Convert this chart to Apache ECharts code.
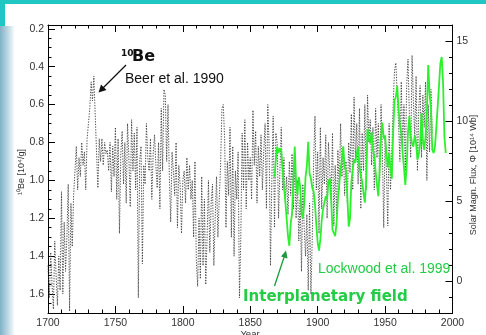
<!DOCTYPE html>
<html>
<head>
<meta charset="utf-8">
<script src="https://cdn.jsdelivr.net/npm/echarts@6/dist/echarts.min.js"></script>
<style>
  html, body { margin: 0; padding: 0; background: #fff; }
  #chart { width: 486px; height: 335px; }
</style>
</head>
<body>
<div id="chart"></div>
<script>
// 10Be concentration, annual values from 1700 (units 10^4 atoms/g)
const beStart = 1700;
const be10 = [
  1.45, 1.62, 1.38, 1.55, 1.68, 1.32, 1.50, 1.66, 1.40, 1.58,
  1.06, 1.60, 1.22, 1.48, 1.30, 1.02, 1.69, 1.12, 1.35, 1.08,
  0.95, 0.82, 1.05, 0.88, 0.98, 0.80, 0.92, 0.85, 1.05, 0.78,
  0.70, 0.62, 0.48, 0.58, 0.45, 0.65, 0.85, 1.04, 0.78, 0.90,
  0.78, 0.92, 0.80, 0.86, 0.84, 0.95, 0.80, 1.06, 0.82, 0.98,
  0.72, 1.10, 0.78, 1.28, 0.86, 0.74, 1.02, 0.80, 1.12, 0.70,
  0.88, 1.14, 0.68, 0.95, 0.75, 1.05, 0.72, 1.62, 0.90, 0.82,
  1.44, 0.92, 1.02, 0.70, 0.88, 0.95, 0.78, 1.10, 0.86, 0.76,
  0.92, 1.04, 0.80, 1.15, 0.62, 0.95, 0.52, 0.55, 0.90, 0.60,
  0.98, 1.22, 0.85, 0.95, 1.08, 0.80, 1.25, 0.92, 1.02, 1.28,
  1.00, 0.95, 1.12, 0.88, 1.05, 0.92, 1.10, 1.00, 1.30, 0.90,
  1.42, 1.56, 1.20, 1.52, 0.98, 1.45, 1.10, 1.55, 1.30, 1.00,
  1.38, 1.12, 1.02, 1.45, 1.20, 0.98, 1.30, 1.10, 0.92, 0.62,
  0.60, 0.78, 1.25, 0.90, 1.08, 0.72, 1.30, 0.82, 1.40, 0.95,
  1.10, 0.85, 1.62, 1.30, 0.75, 1.05, 0.68, 1.15, 0.80, 1.00,
  0.88, 1.10, 0.63, 0.92, 0.74, 1.12, 0.82, 0.98, 0.76, 1.05,
  0.85, 0.70, 1.15, 0.60, 0.82, 1.45, 1.00, 0.66, 1.25, 0.75,
  0.80, 1.20, 0.95, 0.72, 1.05, 0.88, 1.12, 0.98, 1.18, 0.90,
  1.08, 0.86, 1.15, 0.92, 1.20, 1.00, 1.32, 1.10, 1.48, 1.02,
  1.25, 1.40, 1.18, 1.58, 1.12, 1.60, 1.30, 0.90, 0.66, 1.05,
  0.85, 1.28, 0.72, 1.15, 0.88, 1.02, 0.76, 1.20, 0.80, 0.95,
  1.10, 0.75, 1.24, 0.92, 1.18, 0.84, 1.05, 0.70, 0.98, 0.82,
  1.08, 0.90, 1.12, 0.80, 0.96, 0.65, 1.05, 0.56, 0.90, 0.70,
  1.02, 0.62, 1.15, 0.75, 0.95, 0.60, 1.05, 0.55, 0.80, 0.68,
  0.92, 0.72, 1.05, 0.62, 0.88, 0.70, 1.00, 0.60, 0.85, 1.25,
  0.78, 0.95, 1.24, 0.70, 1.05, 0.85, 0.60, 0.42, 0.38, 0.55,
  0.70, 0.90, 0.48, 0.82, 0.60, 0.95, 0.50, 0.36, 0.65, 0.88,
  0.34, 0.58, 0.78, 0.45, 0.95, 0.62, 0.50, 0.88, 0.55, 0.72,
  0.48, 1.00, 0.60, 0.85, 0.52, 0.75
];

// Open solar magnetic flux, annual values from 1868 (units 10^14 Wb)
const fluxStart = 1868;
const flux = [
  6.5, 7.6, 8.4, 8.0, 8.3, 8.1, 7.0, 5.9, 5.0, 3.9,
  2.8, 2.2, 3.6, 4.2, 6.4, 8.4, 6.2, 5.4, 6.5, 5.9,
  4.3, 3.9, 4.8, 6.5, 7.2, 8.7, 6.7, 6.4, 5.8, 5.6,
  4.8, 3.5, 2.4, 1.9, 2.6, 3.8, 4.5, 4.9, 5.3, 5.1,
  6.2, 6.4, 5.1, 3.2, 3.0, 2.8, 3.6, 5.1, 6.0, 7.0,
  7.6, 8.4, 7.1, 6.9, 5.3, 3.4, 3.9, 6.2, 7.0, 7.6,
  7.4, 8.0, 8.4, 7.1, 6.6, 6.2, 5.5, 4.9, 6.2, 9.5,
  8.9, 8.6, 9.3, 8.2, 7.8, 6.8, 6.0, 5.3, 7.1, 9.0,
  9.9, 8.9, 9.1, 8.0, 7.1, 8.0, 7.0, 6.4, 9.3, 11.3,
  11.5, 12.2, 10.8, 9.7, 9.3, 8.0, 7.1, 6.0, 7.1, 9.3,
  10.3, 9.1, 8.6, 8.4, 9.1, 8.6, 7.6, 7.9, 8.6, 10.5,
  8.8, 8.2, 9.0, 10.5, 13.5, 11.7, 10.8, 8.2, 8.0, 8.4,
  9.6, 10.9, 12.2, 13.6, 14.0, 12.4, 9.0, 8.0
];

// Tick positions
const xTicks = { min: 1700, max: 2000, step: 50 };
const beMajorTicks = [0.2, 0.4, 0.6, 0.8, 1.0, 1.2, 1.4, 1.6];
const beRange = [0.18, 1.7];
const fluxMajorTicks = [0, 5, 10, 15];
const fluxRange = [-2, 16];

const beMinorTicks = [];
for (let k = 4; k <= 34; k++) beMinorTicks.push(+(k * 0.05).toFixed(2));

const beData = be10.map((v, i) => [beStart + i, v]);
const fluxData = flux.map((v, i) => [fluxStart + i, v]);

const tickFont = { color: '#333', fontSize: 10.5, fontFamily: 'Liberation Sans, Arial, sans-serif' };
const green = '#22cc44';

function xAxisDef(pos, labels) {
  return {
    type: 'value', position: pos,
    min: xTicks.min, max: xTicks.max, interval: xTicks.step,
    axisLine: { show: true, onZero: false, lineStyle: { color: '#000', width: 1 } },
    axisTick: { show: true, inside: true, length: 7, lineStyle: { color: '#000', width: 1 } },
    minorTick: { show: true, splitNumber: 5, length: 3.5, lineStyle: { color: '#000', width: 1 } },
    splitLine: { show: false }, minorSplitLine: { show: false },
    axisLabel: Object.assign({ show: labels, margin: 5, formatter: v => String(v) }, tickFont)
  };
}

const chart = echarts.init(document.getElementById('chart'), null, { renderer: 'canvas' });
chart.setOption({
  animation: false,
  backgroundColor: '#fff',
  grid: { left: 48, top: 25, width: 404.5, height: 288, containLabel: false },
  xAxis: [xAxisDef('bottom', true), xAxisDef('top', false)],
  yAxis: [
    {
      type: 'value', position: 'left', inverse: true,
      min: beRange[0], max: beRange[1],
      axisLine: { show: true, onZero: false, lineStyle: { color: '#000', width: 1 } },
      axisTick: { show: true, inside: true, length: 7, customValues: beMajorTicks, lineStyle: { color: '#000' } },
      axisLabel: Object.assign({ customValues: beMajorTicks, margin: 4, formatter: v => v.toFixed(1) }, tickFont),
      splitLine: { show: false }
    },
    {
      type: 'value', position: 'left', inverse: true,
      min: beRange[0], max: beRange[1],
      axisLine: { show: false },
      axisTick: { show: true, inside: true, length: 3.5, customValues: beMinorTicks, lineStyle: { color: '#000' } },
      axisLabel: { show: false },
      splitLine: { show: false }
    },
    {
      type: 'value', position: 'right',
      min: fluxRange[0], max: fluxRange[1],
      axisLine: { show: true, onZero: false, lineStyle: { color: '#000', width: 1 } },
      axisTick: { show: true, inside: true, length: 7, customValues: fluxMajorTicks, lineStyle: { color: '#000' } },
      axisLabel: Object.assign({ customValues: fluxMajorTicks, margin: 4 }, tickFont),
      splitLine: { show: false }
    },
    {
      type: 'value', position: 'right',
      min: fluxRange[0], max: fluxRange[1], interval: 1,
      axisLine: { show: false },
      axisTick: { show: true, inside: true, length: 3.5, lineStyle: { color: '#000' } },
      axisLabel: { show: false },
      splitLine: { show: false }
    }
  ],
  series: [
    {
      name: '10Be', type: 'line', xAxisIndex: 0, yAxisIndex: 0,
      data: beData, showSymbol: false, symbol: 'none', z: 2,
      lineStyle: { color: '#3a3a3a', width: 0.9, type: [1.3, 1.4] }
    },
    {
      name: 'Flux', type: 'line', xAxisIndex: 0, yAxisIndex: 2,
      data: fluxData, showSymbol: false, symbol: 'none', z: 3,
      lineStyle: { color: '#2cf02c', width: 1.8 }
    }
  ],
  graphic: [
    // slide decoration: teal header band and left edge strip
    { type: 'rect', z: -10, shape: { x: 0, y: 0, width: 486, height: 4 }, style: { fill: '#1fc6c2' } },
    { type: 'rect', z: -10, shape: { x: 0, y: 0, width: 5, height: 26 }, style: { fill: '#1fc6c2' } },
    {
      type: 'rect', z: -10, shape: { x: 0, y: 26, width: 15, height: 309 },
      style: {
        fill: {
          type: 'linear', x: 0, y: 0, x2: 1, y2: 0,
          colorStops: [
            { offset: 0, color: '#7fb2c8' },
            { offset: 0.5, color: '#b9d6e2' },
            { offset: 1, color: '#ffffff' }
          ]
        }
      }
    },
    // axis titles
    {
      type: 'text', x: 22, y: 172, rotation: Math.PI / 2,
      style: { text: '¹⁰Be [10⁴/g]', fill: '#333', font: '9px "Liberation Sans", Arial, sans-serif', align: 'center', verticalAlign: 'middle' }
    },
    {
      type: 'text', x: 473.5, y: 175, rotation: Math.PI / 2,
      style: { text: 'Solar Magn. Flux, Φ [10¹⁴ Wb]', fill: '#333', font: '9px "Liberation Sans", Arial, sans-serif', align: 'center', verticalAlign: 'middle' }
    },
    {
      type: 'text', x: 250, y: 329,
      style: { text: 'Year', fill: '#333', font: '9.5px "Liberation Sans", Arial, sans-serif', align: 'center', verticalAlign: 'top' }
    },
    // 10Be annotation
    {
      type: 'text', x: 121, y: 53.5,
      style: { text: '10', fill: '#111', font: 'bold 9px "DejaVu Sans", sans-serif', align: 'left', verticalAlign: 'middle' }
    },
    {
      type: 'text', x: 132, y: 56.5,
      style: { text: 'Be', fill: '#111', font: 'bold 16px "DejaVu Sans", sans-serif', align: 'left', verticalAlign: 'middle' }
    },
    {
      type: 'text', x: 125, y: 79,
      style: { text: 'Beer et al. 1990', fill: '#111', font: '14px "Liberation Sans", Arial, sans-serif', align: 'left', verticalAlign: 'middle' }
    },
    { type: 'line', shape: { x1: 126, y1: 65, x2: 102, y2: 89 }, style: { stroke: '#111', lineWidth: 1.3 } },
    { type: 'polygon', shape: { points: [[98.5, 92.5], [101, 84.5], [106.5, 90]] }, style: { fill: '#111' } },
    // interplanetary field annotation
    {
      type: 'text', x: 318, y: 269.5,
      style: { text: 'Lockwood et al. 1999', fill: green, font: '14px "Liberation Sans", Arial, sans-serif', align: 'left', verticalAlign: 'middle' }
    },
    {
      type: 'text', x: 243, y: 297,
      style: { text: 'Interplanetary field', fill: green, font: 'bold 15px "DejaVu Sans", sans-serif', align: 'left', verticalAlign: 'middle' }
    },
    { type: 'line', shape: { x1: 274.5, y1: 286, x2: 284.8, y2: 255 }, style: { stroke: '#1a9a3c', lineWidth: 1.3 } },
    { type: 'polygon', shape: { points: [[286, 250.5], [287.5, 258.5], [281, 256.5]] }, style: { fill: '#1a9a3c' } }
  ]
});
</script>
</body>
</html>
